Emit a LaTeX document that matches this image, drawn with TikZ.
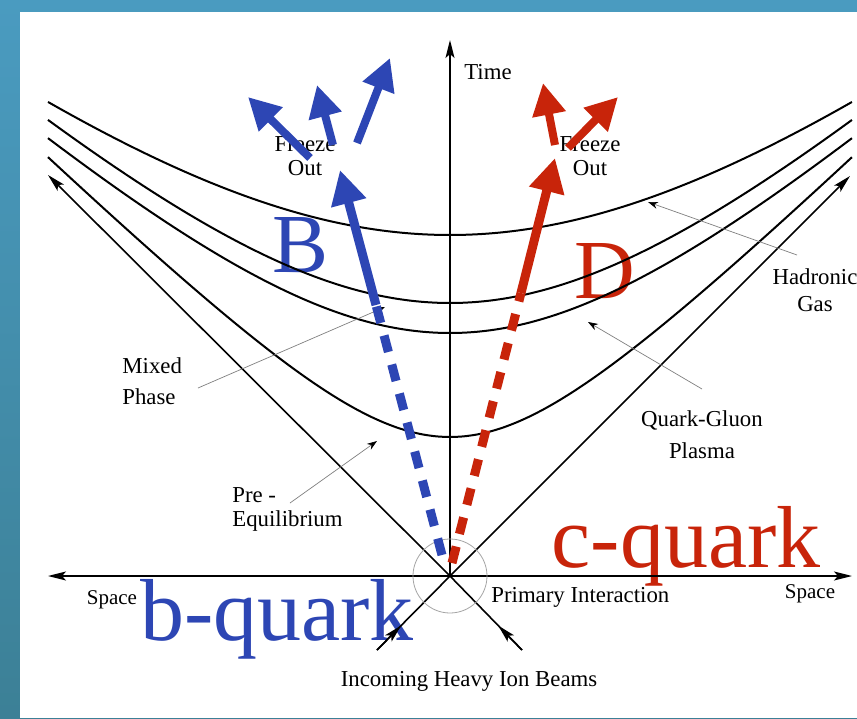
\documentclass[tikz,border=0pt]{standalone}
\usepackage{fontspec}
\setmainfont{Liberation Serif}
\usepackage{tikz}
\usetikzlibrary{arrows.meta,calc}

\definecolor{bqblue}{RGB}{45,70,180}
\definecolor{cqred}{RGB}{200,36,10}
\definecolor{frametop}{RGB}{74,155,192}
\definecolor{framebot}{RGB}{60,128,150}

\begin{document}
\begin{tikzpicture}[
    x=50pt, y=50pt,
    >={Stealth[length=9pt,width=4.5pt,inset=2pt]},
    txt/.style={inner sep=0pt, font=\fontsize{11.4}{12}\selectfont},
    small/.style={inner sep=0pt, font=\fontsize{10.5}{12}\selectfont},
    big/.style={inner sep=0pt, anchor=base, font=\fontsize{44}{44}\selectfont},
    meson/.style={inner sep=0pt, anchor=base, font=\fontsize{42}{42}\selectfont},
    axisline/.style={line width=0.8pt},
    hyp/.style={line width=1pt},
    pointer/.style={draw=gray, line width=0.35pt, -{Stealth[black,length=5pt,width=3.5pt]}},
    track/.style={line width=4.5pt, -{Triangle[length=17pt,width=17pt]}},
    dashtrack/.style={line width=4.5pt, dash pattern=on 8.5pt off 6.5pt},
    prod/.style={line width=4pt, -{Triangle[length=16pt,width=16pt]}}
]

% frame
\useasboundingbox (-4.50,-1.42) rectangle (4.07,5.76);
\shade[top color=frametop, bottom color=framebot] (-4.50,-1.42) rectangle (4.07,5.76);
\fill[white] (-4.30,-1.42) rectangle (4.07,5.64);

\coordinate (O) at (0,0);
\coordinate (timeend) at (0,5.36);
\coordinate (spaceL) at (-4.02,0);
\coordinate (spaceR) at (4.02,0);
\coordinate (coneL) at (-4.02,4.01);
\coordinate (coneR) at (4.00,4.00);
\coordinate (beamL) at (-0.73,-0.74);
\coordinate (beamR) at (0.72,-0.74);

\node[big, text=bqblue] (bquark) at (-1.73,-0.64) {b-quark};
\node[big, text=cqred] (cquark) at (2.36,0.09) {c-quark};
\node[meson, text=bqblue] (bmeson) at (-1.49,3.03) {B};
\node[meson, text=cqred] (dmeson) at (1.55,2.78) {D};

\draw[axisline, ->] (O) -- (timeend);
\draw[axisline, <->] (spaceL) -- (spaceR);
\draw[axisline, ->] (O) -- (coneL);
\draw[axisline, ->] (O) -- (coneR);
\draw[axisline] (beamL) -- (O);
\draw[axisline] (beamR) -- (O);
\draw[axisline, ->] (beamL) -- ($(beamL)!0.33!(O)$);
\draw[axisline, ->] (beamR) -- ($(beamR)!0.33!(O)$);
\draw[gray!70, line width=0.4pt] (O) circle (0.37);

\foreach \t/\k in {3.41/0.671, 2.73/0.826, 2.43/0.821, 1.39/0.966}
    \draw[hyp] plot[domain=-4.02:4.02, samples=61, smooth] (\x,{sqrt(\t*\t+\k*\x*\x)});

\node[txt] (time) at (0.38,5.04) {Time};
\node[small] (spaceleft) at (-3.38,-0.24) {Space};
\node[small] (spaceright) at (3.60,-0.18) {Space};
\node[txt, anchor=west] (primary) at (0.41,-0.21) {Primary Interaction};
\node[txt] (incoming) at (0.19,-1.05) {Incoming Heavy Ion Beams};
\node[txt, align=center] (freezeb) at (-1.45,4.20) {Freeze\\Out};
\node[txt, align=center] (freezec) at (1.40,4.20) {Freeze\\Out};
\node[txt, align=left, anchor=west] (mixed) at (-3.28,1.95) {Mixed\\[3.5pt]Phase};
\node[txt, align=left, anchor=west] (preeq) at (-2.18,0.67) {Pre -\\Equilibrium};
\node[txt, align=center] (hadronic) at (3.65,2.86) {Hadronic\\[1.5pt]Gas};
\node[txt, align=center] (qgp) at (2.52,1.41) {Quark-Gluon\\[4pt]Plasma};

\coordinate (hadtail) at (3.47,3.21);
\coordinate (hadtip) at (1.98,3.74);
\coordinate (qgptail) at (2.52,1.87);
\coordinate (qgptip) at (1.38,2.54);
\coordinate (mixtail) at (-2.52,1.88);
\coordinate (mixtip) at (-0.65,2.69);
\coordinate (pretail) at (-1.60,0.73);
\coordinate (pretip) at (-0.73,1.35);

\draw[pointer] (hadtail) -- (hadtip);
\draw[pointer] (qgptail) -- (qgptip);
\draw[pointer] (mixtail) -- (mixtip);
\draw[pointer] (pretail) -- (pretip);

% heavy quark tracks
\coordinate (bstart) at (-0.08,0.21);
\coordinate (bmid) at (-0.74,2.71);
\coordinate (btip) at (-1.10,4.06);
\coordinate (cstart) at (0.02,0.13);
\coordinate (cmid) at (0.71,2.83);
\coordinate (ctip) at (1.05,4.18);

\draw[dashtrack, bqblue] (bstart) -- (bmid);
\draw[track, bqblue] (bmid) -- (btip);
\draw[dashtrack, cqred] (cstart) -- (cmid);
\draw[track, cqred] (cmid) -- (ctip);

\coordinate (bout1) at (-1.40,4.18);
\coordinate (bend1) at (-2.02,4.79);
\coordinate (bout2) at (-1.17,4.31);
\coordinate (bend2) at (-1.33,4.91);
\coordinate (bout3) at (-0.93,4.33);
\coordinate (bend3) at (-0.60,5.18);
\coordinate (cout1) at (1.05,4.31);
\coordinate (cend1) at (0.93,4.93);
\coordinate (cout2) at (1.18,4.28);
\coordinate (cend2) at (1.68,4.79);

\draw[prod, bqblue] (bout1) -- (bend1);
\draw[prod, bqblue] (bout2) -- (bend2);
\draw[prod, bqblue] (bout3) -- (bend3);
\draw[prod, cqred] (cout1) -- (cend1);
\draw[prod, cqred] (cout2) -- (cend2);

\end{tikzpicture}
\end{document}
